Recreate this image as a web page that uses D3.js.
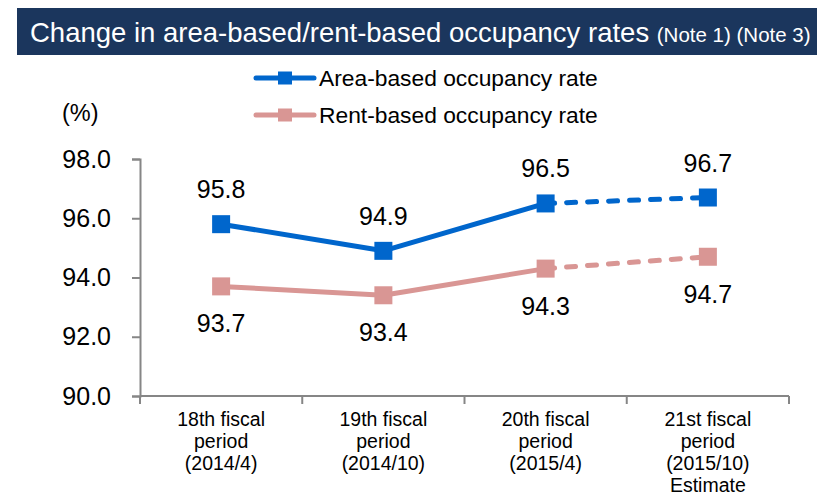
<!DOCTYPE html>
<html>
<head>
<meta charset="utf-8">
<script src="https://cdn.jsdelivr.net/npm/d3@7"></script>
<style>
  body { margin: 0; background: #fff; }
  svg { display: block; font-family: "Liberation Sans", Arial, sans-serif; }
</style>
</head>
<body>
<svg id="chart" width="817" height="496"></svg>
<script>
const periods = ["18th", "19th", "20th", "21st"];
const periodLabels = [
  ["18th fiscal", "period", "(2014/4)"],
  ["19th fiscal", "period", "(2014/10)"],
  ["20th fiscal", "period", "(2015/4)"],
  ["21st fiscal", "period", "(2015/10)", "Estimate"]
];
const areaRate = [95.8, 94.9, 96.5, 96.7];
const rentRate = [93.7, 93.4, 94.3, 94.7];
const yTicks = [90, 92, 94, 96, 98];

const colors = { area: "#0066cc", rent: "#d99694" };

const svg = d3.select("#chart");
const margin = { top: 159, right: 28, bottom: 100, left: 140 };
const width = +svg.attr("width");
const height = +svg.attr("height");

// title bar
svg.append("rect")
  .attr("x", 17).attr("y", 8)
  .attr("width", width - 17).attr("height", 47)
  .attr("fill", "#1b365d");

const title = svg.append("text")
  .attr("x", 30).attr("y", 42)
  .attr("fill", "#fff");
title.append("tspan").attr("font-size", 27.5).text("Change in area-based/rent-based occupancy rates ");
title.append("tspan").attr("font-size", 20.5).text("(Note 1) (Note 3)");

const x = d3.scaleBand()
  .domain(periods)
  .range([margin.left, width - margin.right]);

const y = d3.scaleLinear()
  .domain([90, 98])
  .range([height - margin.bottom, margin.top]);

// Y-axis
const yAxis = svg.append("g")
  .attr("transform", `translate(${margin.left},0)`)
  .call(d3.axisLeft(y).tickValues(yTicks).tickFormat(d3.format(".1f")).tickSize(8).tickPadding(21));
yAxis.select(".domain").attr("stroke", "#868686").attr("stroke-width", 2);
yAxis.selectAll(".tick line").attr("stroke", "#868686").attr("stroke-width", 2);
yAxis.selectAll(".tick text").attr("font-size", 25).attr("fill", "#000")
  .style("font-family", "'Liberation Sans', Arial, sans-serif");

// X-axis
const xAxis = svg.append("g")
  .attr("transform", `translate(0,${height - margin.bottom})`);
xAxis.append("line")
  .attr("x1", margin.left).attr("x2", width - margin.right)
  .attr("stroke", "#868686").attr("stroke-width", 2);
const bounds = periods.map(p => x(p)).concat([x.range()[1]]);
xAxis.selectAll(".bound").data(bounds).enter().append("line")
  .attr("x1", d => d).attr("x2", d => d)
  .attr("y1", 0).attr("y2", 8)
  .attr("stroke", "#868686").attr("stroke-width", 2);

periods.forEach((p, i) => {
  const t = xAxis.append("text")
    .attr("text-anchor", "middle")
    .attr("font-size", 19.5)
    .attr("fill", "#000");
  periodLabels[i].forEach((line, j) => {
    t.append("tspan")
      .attr("x", x(p) + x.bandwidth() / 2)
      .attr("y", 30 + j * 22)
      .text(line);
  });
});

// "(%)"
svg.append("text")
  .attr("x", 62).attr("y", 121)
  .attr("font-size", 23.5)
  .text("(%)");

// lines
function drawSeries(values, color, labelDy) {
  const pts = values.map((v, i) => [x(periods[i]) + x.bandwidth() / 2, y(v)]);
  const line = d3.line();
  svg.append("path")
    .attr("d", line(pts.slice(0, 3)))
    .attr("fill", "none").attr("stroke", color).attr("stroke-width", 5)
    .attr("stroke-linejoin", "round");
  svg.append("path")
    .attr("d", line(pts.slice(2)))
    .attr("fill", "none").attr("stroke", color).attr("stroke-width", 5)
    .attr("stroke-dasharray", "9,12")
    .attr("stroke-linecap", "round");
  svg.selectAll(null).data(pts).enter().append("rect")
    .attr("x", d => d[0] - 9).attr("y", d => d[1] - 9)
    .attr("width", 18).attr("height", 18)
    .attr("fill", color);
  svg.selectAll(null).data(values).enter().append("text")
    .attr("x", (d, i) => pts[i][0])
    .attr("y", (d, i) => pts[i][1] + labelDy)
    .attr("text-anchor", "middle")
    .attr("font-size", 25)
    .attr("fill", "#000")
    .text(d => d3.format(".1f")(d));
}

drawSeries(areaRate, colors.area, -26);
drawSeries(rentRate, colors.rent, 46);

// legend
const legend = [
  { label: "Area-based occupancy rate", color: colors.area, y: 78 },
  { label: "Rent-based occupancy rate", color: colors.rent, y: 115 }
];
legend.forEach(l => {
  svg.append("line")
    .attr("x1", 256).attr("x2", 314)
    .attr("y1", l.y).attr("y2", l.y)
    .attr("stroke", l.color).attr("stroke-width", 5)
    .attr("stroke-linecap", "round");
  svg.append("rect")
    .attr("x", 278).attr("y", l.y - 6.5)
    .attr("width", 14).attr("height", 13)
    .attr("fill", l.color);
  svg.append("text")
    .attr("x", 319).attr("y", l.y + 8)
    .attr("font-size", 22.8)
    .attr("fill", "#000")
    .text(l.label);
});
</script>
</body>
</html>
